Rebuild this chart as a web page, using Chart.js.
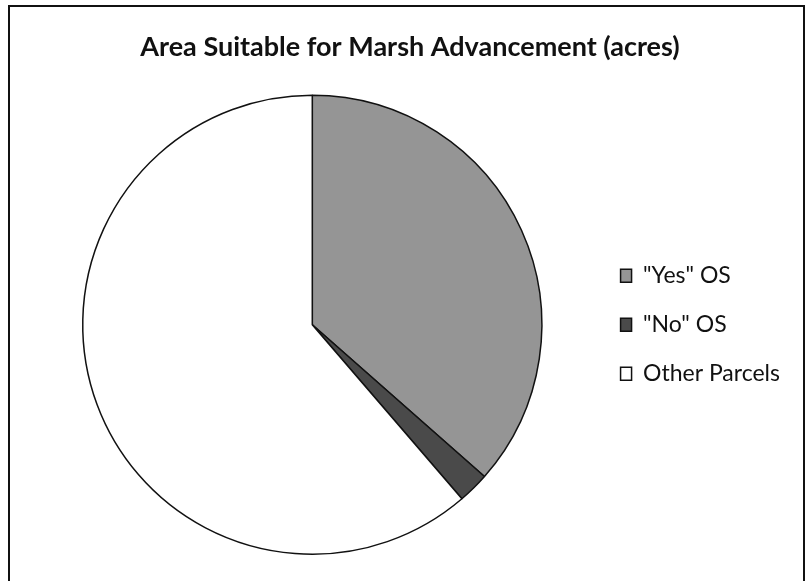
<!DOCTYPE html>
<html>
<head>
<meta charset="utf-8">
<script src="https://cdn.jsdelivr.net/npm/chart.js@4/dist/chart.umd.min.js"></script>
<style>
  html, body { margin: 0; padding: 0; background: #fff; overflow: hidden; }
  #wrap { position: relative; width: 807px; height: 581px; }
  #frame { position: absolute; left: 8px; top: 5px; width: 797px; height: 600px; border: 2px solid #111; box-sizing: border-box; pointer-events: none; }
  canvas { position: absolute; left: 0; top: 0; }
</style>
</head>
<body>
<div id="wrap">
  <canvas id="c" width="807" height="581"></canvas>
  <div id="frame"></div>
</div>
<script>
const chartTitle = 'Area Suitable for Marsh Advancement (acres)';
const categories = ['"Yes" OS', '"No" OS', 'Other Parcels'];
const acres = [365, 22, 613];
const sliceColors = ['#959595', '#4a4a4a', '#ffffff'];

const ctx = document.getElementById('c').getContext('2d');
new Chart(ctx, {
  type: 'pie',
  data: {
    labels: categories,
    datasets: [{
      data: acres,
      backgroundColor: sliceColors,
      borderColor: '#111',
      borderWidth: 1.5
    }]
  },
  options: {
    responsive: false,
    animation: false,
    rotation: 0,
    layout: { padding: { left: 30, right: 17, top: 0, bottom: 26 } },
    plugins: {
      title: {
        display: true,
        text: chartTitle,
        color: '#111',
        font: { family: 'Lato', size: 27, weight: 'bold' },
        padding: { top: 31, bottom: 31 }
      },
      legend: {
        position: 'right',
        fullSize: false,
        labels: {
          color: '#111',
          font: { family: 'Lato', size: 23 },
          boxWidth: 11,
          boxHeight: 13,
          padding: 26
        }
      },
      tooltip: { enabled: false }
    }
  }
});
</script>
</body>
</html>
